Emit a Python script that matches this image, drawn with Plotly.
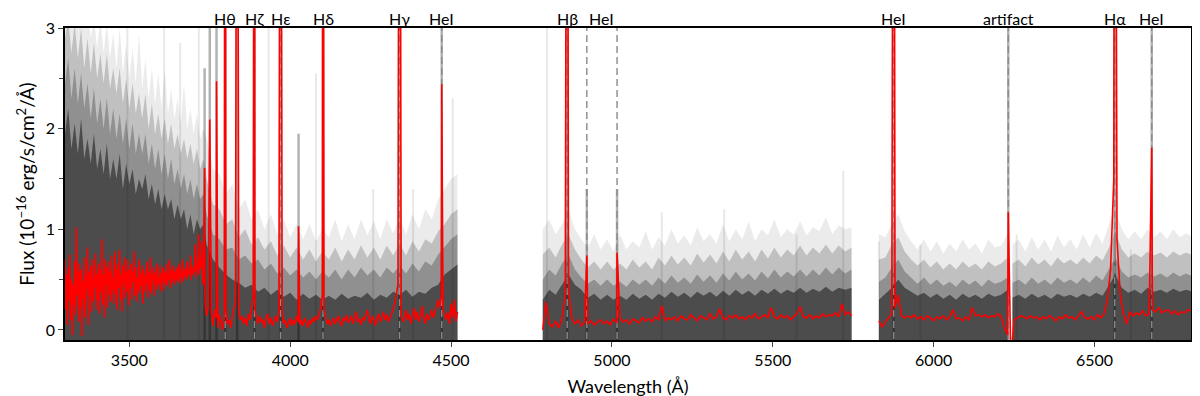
import plotly.graph_objects as go

# ---- median spectrum (red), continuum samples per arm ----
wl_red_a = [3300 + 2.5 * i for i in range(173)] + list(range(3735, 4521, 5))
red_a = [
    # 3300 - 3730, every 2.5 A
    0.70, 0.20, 0.55, 0.05, 0.62, 0.30, 0.75, 0.10, 0.50, -0.05, 0.45,
    0.25, 0.68, 0.15, 1.02, 0.35, 0.58, 0.08, 0.66, 0.22, 0.60,
    -0.06, 0.48, 0.30, 0.72, 0.12, 0.55, 0.40, 0.82, 0.05, 0.58,
    0.34, 0.64, 0.18, 0.70, 0.28, 0.52, 0.42, 0.76, 0.20, 0.56,
    0.30, 0.66, 0.16, 0.60, 0.38, 0.90, 0.25, 0.55, 0.12, 0.70,
    0.44, 0.62, 0.22, 0.68, 0.35, 0.58, 0.28, 0.74, 0.40, 0.52,
    0.26, 0.78, 0.36, 0.60, 0.20, 0.66, 0.42, 0.80, 0.30, 0.56,
    0.18, 0.64, 0.46, 0.72, 0.32, 0.58, 0.38, 0.70, 0.24, 0.60,
    0.42, 0.66, 0.30, 0.58, 0.48, 0.78, 0.34, 0.62, 0.28, 0.52,
    0.40, 0.70, 0.36, 0.56, 0.44, 0.64, 0.26, 0.60, 0.38, 0.54,
    0.46, 0.68, 0.32, 0.58, 0.40, 0.72, 0.36, 0.55, 0.48, 0.62,
    0.34, 0.57, 0.44, 0.66, 0.40, 0.52, 0.46, 0.64, 0.38, 0.56,
    0.48, 0.62, 0.40, 0.58, 0.46, 0.66, 0.44, 0.56, 0.50, 0.70,
    0.42, 0.60, 0.47, 0.55, 0.64, 0.45, 0.58, 0.50, 0.62, 0.48,
    0.56, 0.66, 0.46, 0.60, 0.52, 0.70, 0.48, 0.58, 0.54, 0.62,
    0.50, 0.68, 0.53, 0.60, 0.56, 0.74, 0.50, 0.64, 0.55, 0.60,
    0.58, 0.85, 0.52, 0.66, 0.60, 0.95, 0.55, 0.70, 0.62, 0.88, 0.50, 0.45,
    # 3735 - 4520, every 5 A
    0.30, 0.14, 0.22, 0.08, 0.18, 0.04, 0.20, 0.12, 0.02, 0.15,
    0.08, 0.00, 0.12, 0.18, 0.06, 0.10, 0.02, 0.14, 0.20, 0.28,
    0.30, 0.18, 0.10, 0.14, 0.06, 0.12, 0.04, 0.16, 0.10, 0.22,
    0.35, 0.22, 0.12, 0.06, 0.14, 0.08, 0.10, 0.02, 0.12, 0.16,
    0.06, 0.12, 0.04, 0.10, 0.14, 0.08, 0.20, 0.30, 0.16, 0.06,
    0.10, 0.02, 0.08, 0.12, 0.04, 0.10, 0.06, 0.14, 0.08, 0.05,
    0.10, 0.04, 0.12, 0.08, 0.02, 0.10, 0.06, 0.12, 0.08, 0.14,
    0.10, 0.16, 0.22, 0.35, 0.20, 0.12, 0.06, 0.10, 0.04, 0.08,
    0.12, 0.06, 0.10, 0.14, 0.08, 0.04, 0.12, 0.09, 0.15, 0.07,
    0.10, 0.14, 0.06, 0.12, 0.18, 0.08, 0.11, 0.05, 0.13, 0.09,
    0.15, 0.20, 0.10, 0.06, 0.14, 0.10, 0.04, 0.12, 0.16, 0.08,
    0.12, 0.18, 0.10, 0.15, 0.08, 0.12, 0.16, 0.20, 0.26, 0.38,
    0.45, 0.25, 0.14, 0.08, 0.12, 0.20, 0.10, 0.16, 0.06, 0.14,
    0.22, 0.10, 0.18, 0.08, 0.14, 0.24, 0.12, 0.06, 0.16, 0.10,
    0.14, 0.20, 0.12, 0.18, 0.24, 0.30, 0.22, 0.34, 0.20, 0.14,
    0.10, 0.18, 0.06, 0.26, 0.12, 0.30, 0.08, 0.18,
]
wl_red_b = list(range(4785, 5746, 10))
red_b = [
    0.00, 0.28, 0.06, 0.03, 0.09, 0.02, 0.12, 0.35, 0.40, 0.12,
    0.06, 0.10, 0.04, 0.08, 0.06, 0.09, 0.05, 0.08, 0.10, 0.06,
    0.09, 0.05, 0.11, 0.07, 0.12, 0.08, 0.10, 0.06, 0.11, 0.09,
    0.07, 0.12, 0.09, 0.11, 0.08, 0.13, 0.10, 0.24, 0.09, 0.12,
    0.10, 0.13, 0.09, 0.14, 0.11, 0.10, 0.15, 0.12, 0.09, 0.14,
    0.12, 0.10, 0.16, 0.11, 0.13, 0.21, 0.12, 0.10, 0.14, 0.12,
    0.15, 0.11, 0.13, 0.10, 0.14, 0.12, 0.16, 0.11, 0.13, 0.15,
    0.12, 0.22, 0.13, 0.11, 0.15, 0.12, 0.14, 0.10, 0.13, 0.16,
    0.23, 0.13, 0.12, 0.15, 0.11, 0.14, 0.12, 0.16, 0.13, 0.15,
    0.14, 0.17, 0.13, 0.26, 0.15, 0.18, 0.14,
]
wl_red_c = list(range(5830, 6801, 10))
red_c = [
    0.09, 0.03, 0.08, 0.12, 0.16, 0.22, 0.35, 0.14, 0.12, 0.14,
    0.12, 0.15, 0.11, 0.13, 0.10, 0.14, 0.12, 0.09, 0.13, 0.11,
    0.14, 0.10, 0.13, 0.20, 0.11, 0.12, 0.09, 0.13, 0.10, 0.22,
    0.14, 0.15, 0.13, 0.15, 0.12, 0.14, 0.13, 0.16, 0.13, 0.02,
    -0.05, -0.30, 0.10, 0.12, 0.14, 0.13, 0.11, 0.14, 0.12, 0.13,
    0.10, 0.13, 0.11, 0.14, 0.12, 0.09, 0.13, 0.11, 0.15, 0.12,
    0.13, 0.10, 0.14, 0.18, 0.12, 0.11, 0.13, 0.10, 0.15, 0.12,
    0.16, 0.30, 0.60, 1.50, 0.90, 0.35, 0.16, 0.06, 0.18, 0.14,
    0.17, 0.15, 0.19, 0.14, 0.16, 0.20, 0.18, 0.22, 0.17, 0.19,
    0.20, 0.16, 0.19, 0.15, 0.18, 0.17, 0.20, 0.19,
]

# emission lines in the median spectrum (peaks above 3 are clipped)
line_wl = [3734, 3750, 3771, 3798, 3835, 3889, 3970, 4026, 4102, 4340,
           4471, 4861, 4922, 5016, 5876, 6232, 6563, 6678]
line_peak = [1.61, 2.09, 2.47, 9, 9, 9, 9, 1.03, 9, 9,
             2.44, 9, 0.74, 0.77, 9, 1.17, 9, 1.81]
# top of the grey individual-spectra emission at each line
line_grey_top = [2.6, 3.1, 3.1, 3.1, 3.1, 3.1, 3.1, 1.95, 3.1, 3.1,
                 3.1, 3.1, 1.4, 1.4, 3.1, 3.1, 3.1, 3.1]

# faint spikes of single spectra
streak_wl = [3494, 3608, 3658, 3716, 3933, 4080, 4258, 4382, 4505, 4798,
             5155, 5349, 5574, 5719, 5830, 5959, 6258, 6613]
streak_top = [3.1, 3.0, 2.85, 3.1, 3.1, 2.55, 1.4, 1.4, 2.3, 3.1,
              1.17, 1.2, 0.95, 1.58, 0.88, 0.85, 0.95, 0.8]

# ---- individual spectra, summarised as density envelopes ----
grey_wl_a = list(range(3300, 3731, 10)) + list(range(3740, 4521, 20))
grey_core_a = [
    1.95, 2.2, 1.8, 2.05, 1.75, 2.1, 1.7, 1.9, 1.65, 1.95,
    1.6, 1.8, 1.55, 1.85, 1.5, 1.7, 1.5, 1.75, 1.4, 1.65,
    1.45, 1.6, 1.35, 1.5, 1.4, 1.55, 1.3, 1.45, 1.25, 1.4,
    1.2, 1.35, 1.2, 1.3, 1.1, 1.25, 1.1, 1.2, 1.0, 1.15,
    0.95, 1.1, 1.0, 1.05,
    0.85, 0.7, 0.62, 0.55, 0.5, 0.47, 0.42, 0.45, 0.38, 0.42,
    0.35, 0.4, 0.33, 0.37, 0.3, 0.36, 0.31, 0.35, 0.3, 0.34,
    0.3, 0.36, 0.31, 0.34, 0.32, 0.37, 0.3, 0.35, 0.32, 0.38,
    0.35, 0.4, 0.33, 0.38, 0.36, 0.42, 0.45, 0.55, 0.6, 0.65,
]
grey_mid_a = [
    2.45, 2.7, 2.3, 2.6, 2.25, 2.55, 2.2, 2.45, 2.1, 2.4,
    2.05, 2.3, 2.0, 2.3, 1.95, 2.2, 1.9, 2.15, 1.85, 2.1,
    1.8, 2.05, 1.75, 1.95, 1.75, 1.95, 1.65, 1.85, 1.6, 1.8,
    1.55, 1.75, 1.5, 1.7, 1.45, 1.6, 1.4, 1.55, 1.35, 1.5,
    1.3, 1.45, 1.3, 1.35,
    1.15, 0.95, 0.9, 0.8, 0.82, 0.7, 0.74, 0.66, 0.7, 0.6,
    0.66, 0.56, 0.62, 0.54, 0.6, 0.52, 0.58, 0.5, 0.58, 0.52,
    0.6, 0.5, 0.6, 0.52, 0.62, 0.54, 0.6, 0.52, 0.62, 0.56,
    0.64, 0.56, 0.66, 0.58, 0.68, 0.64, 0.75, 0.82, 0.9, 0.95,
]
grey_light_a = [
    2.9, 3.1, 2.75, 3.05, 2.7, 3.0, 2.6, 2.9, 2.55, 2.85,
    2.5, 2.75, 2.45, 2.75, 2.4, 2.6, 2.35, 2.6, 2.25, 2.5,
    2.2, 2.45, 2.15, 2.35, 2.1, 2.35, 2.0, 2.25, 1.95, 2.15,
    1.9, 2.1, 1.85, 2.05, 1.8, 1.95, 1.75, 1.9, 1.7, 1.85,
    1.65, 1.8, 1.6, 1.7,
    1.5, 1.25, 1.2, 1.05, 1.1, 0.92, 1.0, 0.85, 0.92, 0.8,
    0.88, 0.74, 0.84, 0.72, 0.82, 0.7, 0.8, 0.68, 0.78, 0.7,
    0.82, 0.68, 0.8, 0.7, 0.84, 0.72, 0.82, 0.7, 0.84, 0.74,
    0.86, 0.74, 0.88, 0.78, 0.9, 0.86, 0.98, 1.05, 1.15, 1.2,
]
grey_outer_a = [
    3.2, 3.2, 3.2, 3.2, 3.1, 3.2, 3.0, 3.2, 2.9, 3.1,
    2.8, 3.1, 2.75, 3.05, 2.7, 2.95, 2.6, 3.0, 2.55, 2.85,
    2.5, 2.8, 2.45, 2.95, 2.4, 2.7, 2.3, 2.6, 2.25, 2.55,
    2.2, 2.6, 2.15, 2.4, 2.1, 2.3, 2.05, 2.45, 2.0, 2.2,
    1.95, 2.15, 1.9, 2.0,
    1.9, 1.6, 1.55, 1.35, 1.45, 1.2, 1.3, 1.1, 1.2, 1.0,
    1.15, 0.95, 1.1, 0.92, 1.05, 0.9, 1.05, 0.88, 1.0, 0.92,
    1.1, 0.88, 1.05, 0.9, 1.1, 0.94, 1.08, 0.9, 1.1, 0.96,
    1.12, 0.95, 1.15, 1.0, 1.2, 1.1, 1.3, 1.4, 1.5, 1.55,
]
grey_wl_b = list(range(4785, 5746, 20))
grey_core_b = [
    0.3, 0.4, 0.35, 0.45, 0.55, 0.45, 0.4, 0.32, 0.36, 0.3,
    0.35, 0.3, 0.34, 0.3, 0.36, 0.31, 0.35, 0.3, 0.36, 0.32,
    0.38, 0.33, 0.37, 0.32, 0.38, 0.34, 0.38, 0.33, 0.39, 0.34,
    0.4, 0.35, 0.39, 0.34, 0.4, 0.36, 0.41, 0.36, 0.4, 0.37,
    0.42, 0.37, 0.41, 0.38, 0.43, 0.38, 0.42, 0.4, 0.42,
]
grey_mid_b = [
    0.5, 0.6, 0.54, 0.66, 0.75, 0.6, 0.52, 0.46, 0.5, 0.44,
    0.5, 0.44, 0.48, 0.43, 0.5, 0.45, 0.5, 0.44, 0.52, 0.46,
    0.54, 0.47, 0.52, 0.46, 0.55, 0.48, 0.54, 0.47, 0.56, 0.49,
    0.58, 0.5, 0.56, 0.49, 0.58, 0.51, 0.6, 0.52, 0.58, 0.53,
    0.6, 0.53, 0.6, 0.54, 0.62, 0.55, 0.62, 0.56, 0.6,
]
grey_light_b = [
    0.75, 0.82, 0.72, 0.85, 0.95, 0.8, 0.7, 0.62, 0.68, 0.6,
    0.68, 0.6, 0.66, 0.6, 0.7, 0.62, 0.68, 0.6, 0.72, 0.64,
    0.74, 0.65, 0.72, 0.64, 0.76, 0.67, 0.75, 0.66, 0.78, 0.68,
    0.8, 0.7, 0.78, 0.68, 0.8, 0.71, 0.82, 0.72, 0.8, 0.74,
    0.84, 0.74, 0.82, 0.76, 0.85, 0.76, 0.84, 0.78, 0.82,
]
grey_outer_b = [
    1.0, 1.1, 0.95, 1.05, 1.2, 1.0, 0.9, 0.82, 0.95, 0.8,
    0.9, 0.78, 0.95, 0.8, 0.88, 0.82, 0.98, 0.8, 0.92, 0.84,
    1.0, 0.86, 0.94, 0.84, 1.02, 0.88, 0.95, 0.86, 1.05, 0.88,
    1.0, 0.9, 1.08, 0.88, 1.0, 0.94, 1.1, 0.92, 1.0, 0.95,
    1.08, 0.94, 1.02, 0.98, 1.12, 0.95, 1.04, 1.0, 1.02,
]
grey_wl_c1 = list(range(5830, 6231, 20))
grey_core_c1 = [0.3, 0.36, 0.42, 0.5, 0.42, 0.38, 0.34, 0.37, 0.32, 0.36,
                0.31, 0.35, 0.3, 0.36, 0.32, 0.35, 0.31, 0.36, 0.33, 0.35, 0.4]
grey_mid_c1 = [0.48, 0.52, 0.62, 0.7, 0.58, 0.52, 0.46, 0.52, 0.45, 0.5,
               0.44, 0.48, 0.43, 0.5, 0.45, 0.49, 0.43, 0.5, 0.46, 0.48, 0.52]
grey_light_c1 = [0.7, 0.72, 0.85, 0.92, 0.78, 0.7, 0.64, 0.7, 0.62, 0.68,
                 0.6, 0.66, 0.6, 0.68, 0.62, 0.66, 0.6, 0.68, 0.63, 0.66, 0.72]
grey_outer_c1 = [0.95, 0.92, 1.05, 1.15, 0.98, 0.88, 0.8, 0.9, 0.78, 0.88,
                 0.76, 0.86, 0.78, 0.9, 0.8, 0.86, 0.76, 0.9, 0.82, 0.84, 0.95]
grey_wl_c2 = list(range(6245, 6806, 20))
grey_core_c2 = [0.32, 0.35, 0.31, 0.36, 0.32, 0.35, 0.31, 0.36, 0.33, 0.35,
                0.32, 0.36, 0.33, 0.37, 0.34, 0.45, 0.55, 0.42, 0.37, 0.4,
                0.36, 0.42, 0.38, 0.4, 0.37, 0.41, 0.38, 0.4, 0.38]
grey_mid_c2 = [0.47, 0.5, 0.45, 0.52, 0.46, 0.5, 0.45, 0.52, 0.47, 0.5,
               0.46, 0.52, 0.47, 0.54, 0.49, 0.6, 0.72, 0.58, 0.52, 0.55,
               0.52, 0.57, 0.53, 0.56, 0.52, 0.57, 0.53, 0.56, 0.53]
grey_light_c2 = [0.66, 0.7, 0.63, 0.72, 0.65, 0.7, 0.63, 0.72, 0.66, 0.7,
                 0.65, 0.72, 0.66, 0.74, 0.69, 0.82, 0.98, 0.8, 0.72, 0.76,
                 0.72, 0.78, 0.74, 0.77, 0.72, 0.78, 0.74, 0.77, 0.74]
grey_outer_c2 = [0.85, 0.9, 0.78, 0.92, 0.8, 0.9, 0.78, 0.94, 0.82, 0.9,
                 0.8, 0.95, 0.82, 0.96, 0.86, 1.05, 1.2, 1.0, 0.9, 0.98,
                 0.9, 1.0, 0.92, 0.98, 0.9, 1.0, 0.92, 0.96, 0.92]

# ---- line markers ----
marker_wl = [3798, 3889, 3970, 4102, 4340, 4471, 4861, 4922, 5016,
             5876, 6232, 6563, 6678]
label_wl = [3798, 3889, 3970, 4102, 4340, 4471, 4861, 4969, 5876,
            6232, 6563, 6678]
label_text = ["Hθ", "Hζ", "Hε", "Hδ", "Hγ", "HeI", "Hβ", "HeI", "HeI",
              "artifact", "Hα", "HeI"]

FONT = "Lato, 'Open Sans', sans-serif"
fig = go.Figure()

grey_segments = [
    (grey_wl_a, grey_core_a, grey_mid_a, grey_light_a, grey_outer_a),
    (grey_wl_b, grey_core_b, grey_mid_b, grey_light_b, grey_outer_b),
    (grey_wl_c1, grey_core_c1, grey_mid_c1, grey_light_c1, grey_outer_c1),
    (grey_wl_c2, grey_core_c2, grey_mid_c2, grey_light_c2, grey_outer_c2),
]
for wl, core, mid, light, outer in grey_segments:
    for top, alpha in ((outer, 0.08), (light, 0.18), (mid, 0.25), (core, 0.47)):
        fig.add_trace(go.Scatter(
            x=wl + wl[::-1], y=top + [-0.3] * len(wl),
            fill="toself", fillcolor=f"rgba(0,0,0,{alpha})",
            line=dict(width=0), mode="lines", hoverinfo="skip",
            showlegend=False,
        ))


def vlines(wls, tops, bottom):
    xs, ys = [], []
    for w, t in zip(wls, tops):
        xs += [w, w, None]
        ys += [bottom, t, None]
    return xs, ys


sx, sy = vlines(streak_wl, streak_top, -0.1)
fig.add_trace(go.Scatter(x=sx, y=sy, mode="lines",
                         line=dict(color="rgba(0,0,0,0.09)", width=2),
                         hoverinfo="skip", showlegend=False))

gx, gy = vlines(line_wl, line_grey_top, -0.1)
fig.add_trace(go.Scatter(x=gx, y=gy, mode="lines",
                         line=dict(color="rgba(0,0,0,0.3)", width=2.5),
                         hoverinfo="skip", showlegend=False))

dx, dy = vlines(marker_wl, [3.2] * len(marker_wl), -0.2)
fig.add_trace(go.Scatter(x=dx, y=dy, mode="lines",
                         line=dict(color="#8a8a8a", width=1.4, dash="7px,4px"),
                         hoverinfo="skip", showlegend=False))

# median spectrum: continuum + line peaks, arms separated by gaps
rx, ry = [], []
for wl, fl in ((wl_red_a, red_a), (wl_red_b, red_b), (wl_red_c, red_c)):
    pts = dict(zip(wl, fl))
    for w, p in zip(line_wl, line_peak):
        if wl[0] <= w <= wl[-1]:
            pts[w] = p
    for w in sorted(pts):
        rx.append(w)
        ry.append(pts[w])
    rx.append(None)
    ry.append(None)
fig.add_trace(go.Scatter(x=rx, y=ry, mode="lines",
                         line=dict(color="#ff0000", width=1.6),
                         hoverinfo="skip", showlegend=False))

for w, t in zip(label_wl, label_text):
    fig.add_annotation(x=w, y=1, xref="x", yref="paper", text=t,
                       showarrow=False, yanchor="bottom", borderpad=0,
                       yshift=-1,
                       font=dict(size=16, color="black", family=FONT))

fig.update_layout(
    width=1200, height=396,
    margin=dict(l=57, r=10, t=20, b=63),
    plot_bgcolor="white", paper_bgcolor="white",
    font=dict(family=FONT, size=16, color="black"),
    showlegend=False,
)
fig.update_xaxes(
    range=[3300, 6800], tick0=3500, dtick=500, ticks="outside", ticklen=5,
    showline=True, linecolor="black", linewidth=1.5, mirror=True,
    showgrid=False, zeroline=False,
    title=dict(text="Wavelength (Å)", standoff=12, font=dict(size=18)),
)
fig.update_yaxes(
    range=[-0.1, 3], dtick=1, ticks="outside", ticklen=5,
    minor=dict(dtick=0.5, ticks="outside", ticklen=4),
    showline=True, linecolor="black", linewidth=1.5, mirror="ticks",
    showgrid=False, zeroline=False,
    title=dict(text="Flux (10<sup>−16</sup> erg/s/cm<sup>2</sup>/Å)",
               standoff=6, font=dict(size=19)),
)

fig.write_html("out.html")
